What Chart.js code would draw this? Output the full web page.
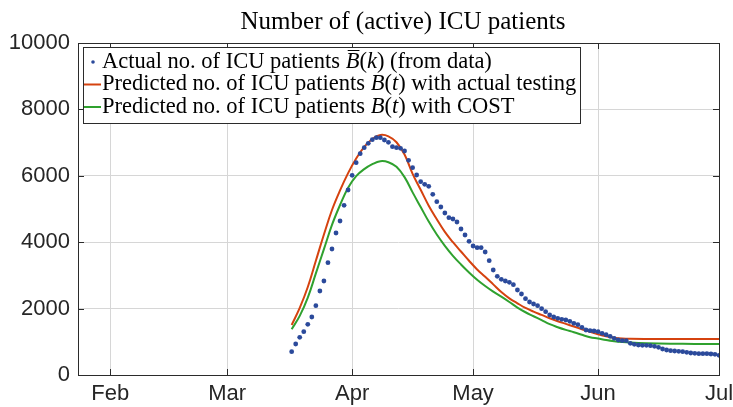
<!DOCTYPE html>
<html>
<head>
<meta charset="utf-8">
<script src="https://cdn.jsdelivr.net/npm/chart.js@4.4.1/dist/chart.umd.min.js"></script>
<style>
  html, body { margin: 0; padding: 0; background: #fff; }
  #wrap { width: 733px; height: 407px; }
</style>
</head>
<body>
<div id="wrap"><canvas id="icuChart"></canvas></div>
<script>
// days counted from 1 Jan 2020 (day 0)
var monthTicks = [31, 60, 91, 121, 152, 182];
var monthLabels = ["Feb", "Mar", "Apr", "May", "Jun", "Jul"];
var xMinDay = 23;

// daily ICU counts, 17 Mar .. 1 Jul
var firstObsDay = 76;
var observed = [
  702, 934, 1135, 1305, 1526, 1747, 2088, 2530, 2831, 3383,
  3795, 4277, 4639, 5111, 5572, 6015, 6395, 6666, 6847, 6979,
  7088, 7148, 7148, 7078, 7009, 6877, 6847, 6828, 6747, 6467,
  6244, 6024, 5823, 5743, 5683, 5442, 5220, 5060, 4880, 4739,
  4699, 4608, 4398, 4217, 4026, 3886, 3835, 3835, 3705, 3444,
  3163, 2972, 2882, 2831, 2791, 2721, 2560, 2440, 2299, 2199,
  2139, 2088, 1997, 1907, 1807, 1747, 1707, 1677, 1657, 1617,
  1557, 1516, 1436, 1355, 1335, 1325, 1305, 1256, 1215, 1165,
  1105, 1054, 1034, 1034, 954, 924, 904, 894, 894, 884,
  864, 834, 783, 753, 733, 723, 714, 703, 683, 663,
  653, 643, 643, 643, 633, 623, 593
];

var curveDays = [
  76, 78, 80, 82, 84, 86, 88, 90, 92, 94, 96, 98, 100, 102, 104, 106,
  108, 110, 112, 114, 116, 118, 120, 122, 124, 126, 128, 130, 132, 134,
  136, 138, 140, 142, 144, 146, 148, 150, 152, 154, 156, 158, 160, 164,
  170, 176, 182
];
var predictedActual = [
  1506, 2020, 2650, 3440, 4230, 4970, 5560, 6080, 6520, 6870, 7110, 7230, 7190, 7010, 6640, 6060,
  5580, 5100, 4690, 4310, 4000, 3720, 3440, 3180, 2960, 2730, 2500, 2310, 2160, 2020,
  1910, 1810, 1710, 1620, 1540, 1460, 1380, 1300, 1230, 1170, 1125, 1100, 1090, 1085,
  1084, 1084, 1084
];
var predictedCost = [
  1380, 1780, 2330, 3060, 3790, 4520, 5120, 5640, 5990, 6200, 6350, 6440, 6410, 6270, 5960, 5500,
  5060, 4620, 4230, 3890, 3590, 3330, 3090, 2870, 2680, 2510, 2360, 2200, 2030, 1890,
  1770, 1650, 1530, 1440, 1360, 1290, 1210, 1140, 1100, 1055, 1020, 995, 978, 958,
  942, 936, 934
];

var seriesLabels = [
  "Actual no. of ICU patients B\u0305(k) (from data)",
  "Predicted no. of ICU patients B(t) with actual testing",
  "Predicted no. of ICU patients B(t) with COST"
];
// rich versions for the legend: [text, italic, overline]
var legendRich = [
  [["Actual no. of ICU patients ", 0, 0], ["B", 1, 1], ["(", 0, 0], ["k", 1, 0], [") (from data)", 0, 0]],
  [["Predicted no. of ICU patients ", 0, 0], ["B", 1, 0], ["(", 0, 0], ["t", 1, 0], [") with actual testing", 0, 0]],
  [["Predicted no. of ICU patients ", 0, 0], ["B", 1, 0], ["(", 0, 0], ["t", 1, 0], [") with COST", 0, 0]]
];
var titleText = "Number of (active) ICU patients";

var colBlue = "#2b4a9b", colRed = "#d5420f", colGreen = "#2fa12e";
var serif = "'Liberation Serif', 'Times New Roman', serif";

function pts(xs, ys) {
  return ys.map(function (v, i) { return { x: xs[i], y: v }; });
}
var obsPts = observed.map(function (v, i) { return { x: firstObsDay + i, y: v }; });

var boxPlugin = {
  id: "matlabBox",
  afterDatasetsDraw: function (chart) {
    var c = chart.ctx, a = chart.chartArea, sx = chart.scales.x, sy = chart.scales.y;
    c.save();
    c.strokeStyle = "#2b2b2b";
    c.lineWidth = 1;
    c.beginPath();
    monthTicks.forEach(function (d) {
      var px = Math.round(sx.getPixelForValue(d)) + 0.5;
      c.moveTo(px, a.bottom); c.lineTo(px, a.bottom - 6);
      c.moveTo(px, a.top); c.lineTo(px, a.top + 6);
    });
    for (var v = 0; v <= 10000; v += 2000) {
      var py = Math.round(sy.getPixelForValue(v)) + 0.5;
      c.moveTo(a.left, py); c.lineTo(a.left + 6, py);
      c.moveTo(a.right, py); c.lineTo(a.right - 6, py);
    }
    c.stroke();
    c.strokeRect(Math.round(a.left) + 0.5, Math.round(a.top) + 0.5,
      Math.round(a.right - a.left), Math.round(a.bottom - a.top));
    c.restore();
  },
  afterDraw: function (chart) {
    var c = chart.ctx, a = chart.chartArea;
    c.save();
    // title
    c.fillStyle = "#000";
    c.font = "25px " + serif;
    c.textAlign = "center";
    c.textBaseline = "alphabetic";
    c.fillText(titleText, 403, 29);

    // legend
    c.textAlign = "left";
    var fs = 22.5, rowH = 22.5;
    var x0 = a.left + 5, y0 = a.top + 4;
    var widths = legendRich.map(function (row) {
      return row.reduce(function (s, seg) {
        c.font = (seg[1] ? "italic " : "") + fs + "px " + serif;
        return s + c.measureText(seg[0]).width;
      }, 0);
    });
    var w = 20 + Math.max.apply(null, widths) + 3, h = 76;
    c.fillStyle = "#fff";
    c.fillRect(x0, y0, w, h);
    c.strokeStyle = "#2b2b2b";
    c.lineWidth = 1;
    c.strokeRect(Math.round(x0) + 0.5, Math.round(y0) + 0.5, Math.round(w), h);
    var ds = chart.data.datasets;
    legendRich.forEach(function (row, i) {
      var cy = y0 + 15 + i * rowH;
      if (i === 0) {
        c.fillStyle = ds[0].backgroundColor;
        c.beginPath(); c.arc(x0 + 10, cy, 1.8, 0, Math.PI * 2); c.fill();
      } else {
        c.strokeStyle = ds[i].borderColor; c.lineWidth = 2;
        c.beginPath(); c.moveTo(x0 + 1, cy); c.lineTo(x0 + 18, cy); c.stroke();
      }
      var tx = x0 + 19;
      c.fillStyle = "#000";
      c.textBaseline = "middle";
      row.forEach(function (seg) {
        c.font = (seg[1] ? "italic " : "") + fs + "px " + serif;
        var sw = c.measureText(seg[0]).width;
        c.fillText(seg[0], tx, cy);
        if (seg[2]) {
          c.strokeStyle = "#000"; c.lineWidth = 1;
          c.beginPath(); c.moveTo(tx + 2, cy - 11.5); c.lineTo(tx + sw, cy - 11.5); c.stroke();
        }
        tx += sw;
      });
    });
    c.restore();
  }
};

new Chart(document.getElementById("icuChart"), {
  type: "scatter",
  data: {
    datasets: [
      {
        label: seriesLabels[0],
        data: obsPts,
        backgroundColor: colBlue,
        borderColor: colBlue,
        pointRadius: 2.4,
        pointBorderWidth: 0,
        showLine: false,
        order: 0
      },
      {
        label: seriesLabels[1],
        data: pts(curveDays, predictedActual),
        borderColor: colRed,
        backgroundColor: colRed,
        borderWidth: 2,
        pointRadius: 0,
        showLine: true,
        tension: 0.4,
        order: 1
      },
      {
        label: seriesLabels[2],
        data: pts(curveDays, predictedCost),
        borderColor: colGreen,
        backgroundColor: colGreen,
        borderWidth: 2,
        pointRadius: 0,
        showLine: true,
        tension: 0.4,
        order: 2
      }
    ]
  },
  options: {
    responsive: true,
    maintainAspectRatio: false,
    animation: false,
    layout: { padding: { top: 43, right: 14, left: 0, bottom: 0 } },
    plugins: {
      legend: { display: false },
      title: { display: false },
      tooltip: { enabled: false }
    },
    scales: {
      x: {
        type: "linear",
        min: xMinDay,
        max: 182,
        afterBuildTicks: function (s) {
          s.ticks = monthTicks.map(function (v) { return { value: v }; });
        },
        afterFit: function (s) { s.height = 32; s.paddingLeft = 0; s.paddingRight = 0; },
        ticks: {
          autoSkip: false,
          maxRotation: 0,
          padding: 6,
          color: "#262626",
          font: { family: "'Liberation Sans', Arial, sans-serif", size: 22 },
          callback: function (v) { return monthLabels[monthTicks.indexOf(v)]; }
        },
        grid: { color: "#d6d6d6", drawTicks: false },
        border: { display: false }
      },
      y: {
        min: 0,
        max: 10000,
        afterFit: function (s) { s.width = 78; s.paddingTop = 0; s.paddingBottom = 0; },
        ticks: {
          stepSize: 2000,
          padding: 8,
          color: "#262626",
          font: { family: "'Liberation Sans', Arial, sans-serif", size: 22 },
          callback: function (v) { return String(v); }
        },
        grid: { color: "#d6d6d6", drawTicks: false },
        border: { display: false }
      }
    }
  },
  plugins: [boxPlugin]
});
</script>
</body>
</html>
